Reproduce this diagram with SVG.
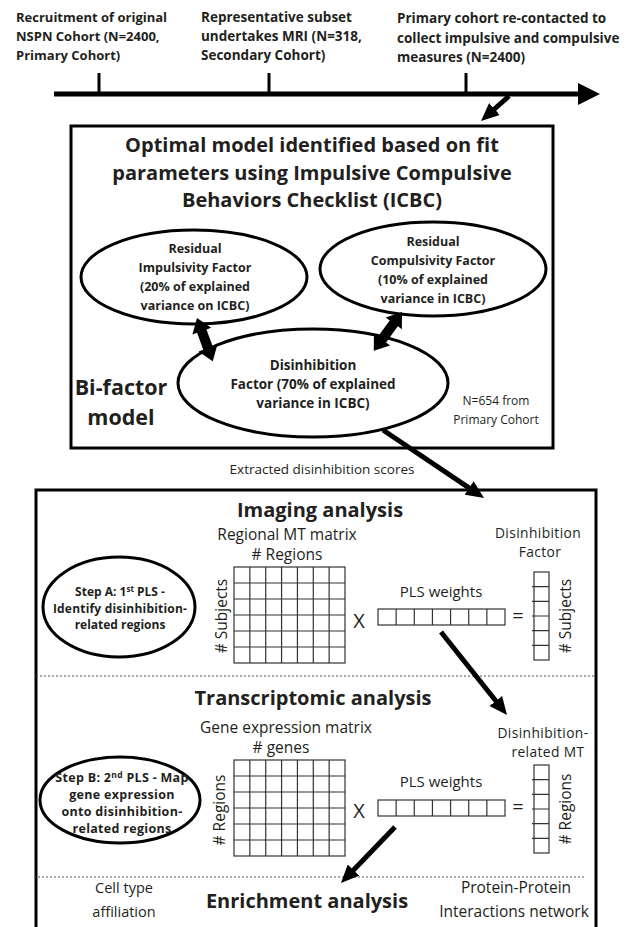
<svg xmlns="http://www.w3.org/2000/svg" xmlns:xlink="http://www.w3.org/1999/xlink" width="630" height="927" viewBox="0 0 630 927">
<style>
  text { font-family: "Open Sans", Lato, "Liberation Sans", sans-serif; fill: #231f20; }
  .tl { font-size: 13px; font-weight: bold; }
  .tl2 { font-size: 13.5px; font-weight: bold; }
  .title { font-size: 20px; font-weight: bold; text-anchor: middle; }
  .el { font-size: 12.5px; font-weight: bold; text-anchor: middle; }
  .big { font-size: 21.5px; font-weight: bold; text-anchor: middle; }
  .sm { font-size: 13.5px; text-anchor: middle; }
  .lbl { font-size: 15.5px; text-anchor: middle; }
  .lb2 { font-size: 15px; text-anchor: middle; }
  .lb3 { font-size: 13.8px; letter-spacing: 0.4px; text-anchor: middle; }
  .op { font-size: 20px; text-anchor: middle; }
  .box { fill: #fff; stroke: #000; stroke-width: 3; }
  .ell { fill: #fff; stroke: #000; stroke-width: 3; }
  .grid { fill: none; stroke: #333; stroke-width: 1.2; }
  .dot { stroke: #555; stroke-width: 1; stroke-dasharray: 2 2; }
  .arr { stroke: #000; stroke-width: 5; fill: none; }
  .dbl { fill: #000; }
</style>
<defs>
  <marker id="ah" markerUnits="userSpaceOnUse" markerWidth="18" markerHeight="16" viewBox="0 0 18 16" refX="3" refY="8" orient="auto">
    <path d="M0,0 L18,8 L0,16 z" fill="#000"/>
  </marker>
  <g id="mat">
    <rect class="grid" x="0" y="0" width="111" height="96"/>
    <path class="grid" d="M15.86,0V96M31.71,0V96M47.57,0V96M63.43,0V96M79.29,0V96M95.14,0V96M0,16H111M0,32H111M0,48H111M0,64H111M0,80H111"/>
  </g>
  <g id="wrow">
    <rect class="grid" x="0" y="0" width="127" height="16"/>
    <path class="grid" d="M18.14,0V16M36.29,0V16M54.43,0V16M72.57,0V16M90.71,0V16M108.86,0V16"/>
  </g>
  <g id="vcol">
    <rect class="grid" x="0" y="0" width="15" height="88"/>
    <path class="grid" d="M-2,14.67H15M-2,29.33H15M-2,44H15M-2,58.67H15M-2,73.33H15"/>
  </g>
</defs>

<g id="timeline">
  <line x1="54" y1="94" x2="582" y2="94" stroke="#000" stroke-width="5"/>
  <polygon points="578,83 600,94 578,105" fill="#000"/>
  <line x1="99" y1="73" x2="99" y2="94" stroke="#000" stroke-width="3"/>
  <line x1="269" y1="73" x2="269" y2="94" stroke="#000" stroke-width="3"/>
  <line x1="466" y1="73" x2="466" y2="94" stroke="#000" stroke-width="3"/>
</g>
<g id="t1">
  <text class="tl" x="16" y="22">Recruitment of original</text>
  <text class="tl" x="16" y="41">NSPN Cohort (N=2400,</text>
  <text class="tl" x="16" y="60">Primary Cohort)</text>
</g>
<g id="t2">
  <text class="tl2" x="201" y="22">Representative subset</text>
  <text class="tl2" x="201" y="41">undertakes MRI (N=318,</text>
  <text class="tl2" x="201" y="60">Secondary Cohort)</text>
</g>
<g id="t3">
  <text class="tl2" x="397" y="23">Primary cohort re-contacted to</text>
  <text class="tl2" x="397" y="43">collect impulsive and compulsive</text>
  <text class="tl2" x="397" y="62">measures (N=2400)</text>
</g>

<g id="box1">
  <rect class="box" x="71" y="126" width="482" height="322"/>
  <text class="title" x="312" y="152">Optimal model identified based on fit</text>
  <text class="title" x="312" y="180">parameters using Impulsive Compulsive</text>
  <text class="title" x="312" y="207">Behaviors Checklist (ICBC)</text>
  <text class="big" x="121" y="395">Bi-factor</text>
  <text class="big" x="121" y="425">model</text>
  <text class="sm" x="496" y="405" style="font-size:12px">N=654 from</text>
  <text class="sm" x="496" y="424" style="font-size:12px">Primary Cohort</text>
</g>
<g id="impulsivity">
  <ellipse class="ell" cx="194" cy="277" rx="113" ry="47"/>
  <text class="el" x="195" y="253">Residual</text>
  <text class="el" x="195" y="272">Impulsivity Factor</text>
  <text class="el" x="195" y="291">(20% of explained</text>
  <text class="el" x="195" y="310">variance on ICBC)</text>
</g>
<g id="compulsivity">
  <ellipse class="ell" cx="433" cy="269" rx="113" ry="47"/>
  <text class="el" x="433" y="246">Residual</text>
  <text class="el" x="433" y="265">Compulsivity Factor</text>
  <text class="el" x="433" y="284">(10% of explained</text>
  <text class="el" x="433" y="303">variance in ICBC)</text>
</g>
<g id="disinhibition">
  <ellipse class="ell" cx="313" cy="383" rx="135" ry="54"/>
  <text class="el" x="313" y="370" style="font-size:13.5px">Disinhibition</text>
  <text class="el" x="313" y="389" style="font-size:13.5px">Factor (70% of explained</text>
  <text class="el" x="313" y="408" style="font-size:13.5px">variance in ICBC)</text>
</g>
<text id="extracted" class="sm" x="322" y="474">Extracted disinhibition scores</text>

<g id="box2">
  <rect class="box" x="36" y="490" width="560" height="450"/>
  <line class="dot" x1="36" y1="676" x2="596" y2="676"/>
  <line class="dot" x1="34" y1="877" x2="584" y2="877"/>
</g>

<g id="imaging">
  <text class="title" x="320" y="517">Imaging analysis</text>
  <text class="lbl" x="287" y="540">Regional MT matrix</text>
  <text class="lbl" x="287" y="560"># Regions</text>
  <use xlink:href="#mat" x="234" y="567"/>
  <text class="lbl" transform="translate(227,616) rotate(-90)"># Subjects</text>
  <text class="op" x="359" y="628">X</text>
  <text class="lb2" x="441" y="597">PLS weights</text>
  <use xlink:href="#wrow" x="378" y="609"/>
  <text class="op" x="518" y="623">=</text>
  <text class="lb3" x="538" y="538">Disinhibition</text>
  <text class="lb3" x="540" y="557">Factor</text>
  <use xlink:href="#vcol" x="534" y="572"/>
  <text class="lbl" transform="translate(571,616) rotate(-90)"># Subjects</text>
</g>
<g id="stepA">
  <ellipse class="ell" cx="119" cy="607" rx="76" ry="50"/>
  <text class="el" x="120" y="596" style="font-size:12px">Step A: 1<tspan font-size="8" dy="-4">st</tspan><tspan dy="4"> PLS -</tspan></text>
  <text class="el" x="120" y="612.5" style="font-size:12px;letter-spacing:0.2px">Identify disinhibition-</text>
  <text class="el" x="120" y="629" style="font-size:12px">related regions</text>
</g>

<g id="transcriptomic">
  <text class="title" x="313" y="705">Transcriptomic analysis</text>
  <text class="lbl" x="286" y="733">Gene expression matrix</text>
  <text class="lbl" x="281" y="753"># genes</text>
  <use xlink:href="#mat" x="234" y="760"/>
  <text class="lbl" transform="translate(225,810) rotate(-90)"># Regions</text>
  <text class="op" x="359" y="818">X</text>
  <text class="lb2" x="441" y="787">PLS weights</text>
  <use xlink:href="#wrow" x="378" y="800"/>
  <text class="op" x="518" y="814">=</text>
  <text class="lb3" x="543" y="738">Disinhibition-</text>
  <text class="lb3" x="548" y="757">related MT</text>
  <use xlink:href="#vcol" x="534" y="765"/>
  <text class="lbl" transform="translate(571,809) rotate(-90)"># Regions</text>
</g>
<g id="stepB">
  <ellipse class="ell" cx="120" cy="800" rx="80" ry="43"/>
  <text class="el" x="122" y="782" style="font-size:12.5px;letter-spacing:0.3px">Step B: 2<tspan font-size="8.5" dy="-4">nd</tspan><tspan dy="4"> PLS - Map</tspan></text>
  <text class="el" x="122" y="799" style="font-size:12.5px;letter-spacing:0.3px">gene expression</text>
  <text class="el" x="122" y="816" style="font-size:12.5px;letter-spacing:0.3px">onto disinhibition-</text>
  <text class="el" x="122" y="833" style="font-size:12.5px;letter-spacing:0.3px">related regions</text>
</g>

<g id="enrichment">
  <text class="lbl" x="124" y="893" style="font-size:14.5px">Cell type</text>
  <text class="lbl" x="124" y="917" style="font-size:14.5px">affiliation</text>
  <text class="title" x="307" y="908">Enrichment analysis</text>
  <text class="lbl" x="516" y="893">Protein-Protein</text>
  <text class="lbl" x="514" y="917">Interactions network</text>
</g>

<g id="connectors">
  <line class="arr" x1="509" y1="96" x2="492.2" y2="111" marker-end="url(#ah)"/>
  <line class="arr" x1="383" y1="430" x2="471.6" y2="489.6" marker-end="url(#ah)"/>
  <line class="arr" x1="441" y1="632" x2="497.7" y2="703.3" marker-end="url(#ah)"/>
  <line class="arr" x1="395" y1="827" x2="351.4" y2="872.2" marker-end="url(#ah)"/>
  <polygon class="dbl" transform="translate(197,318) rotate(70)" points="0,0 14,-10 14,-5 32,-5 32,-10 46,0 32,10 32,5 14,5 14,10"/>
  <polygon class="dbl" transform="translate(402,312) rotate(126)" points="0,0 14,-10 14,-5 34,-5 34,-10 48,0 34,10 34,5 14,5 14,10"/>
</g>
</svg>
